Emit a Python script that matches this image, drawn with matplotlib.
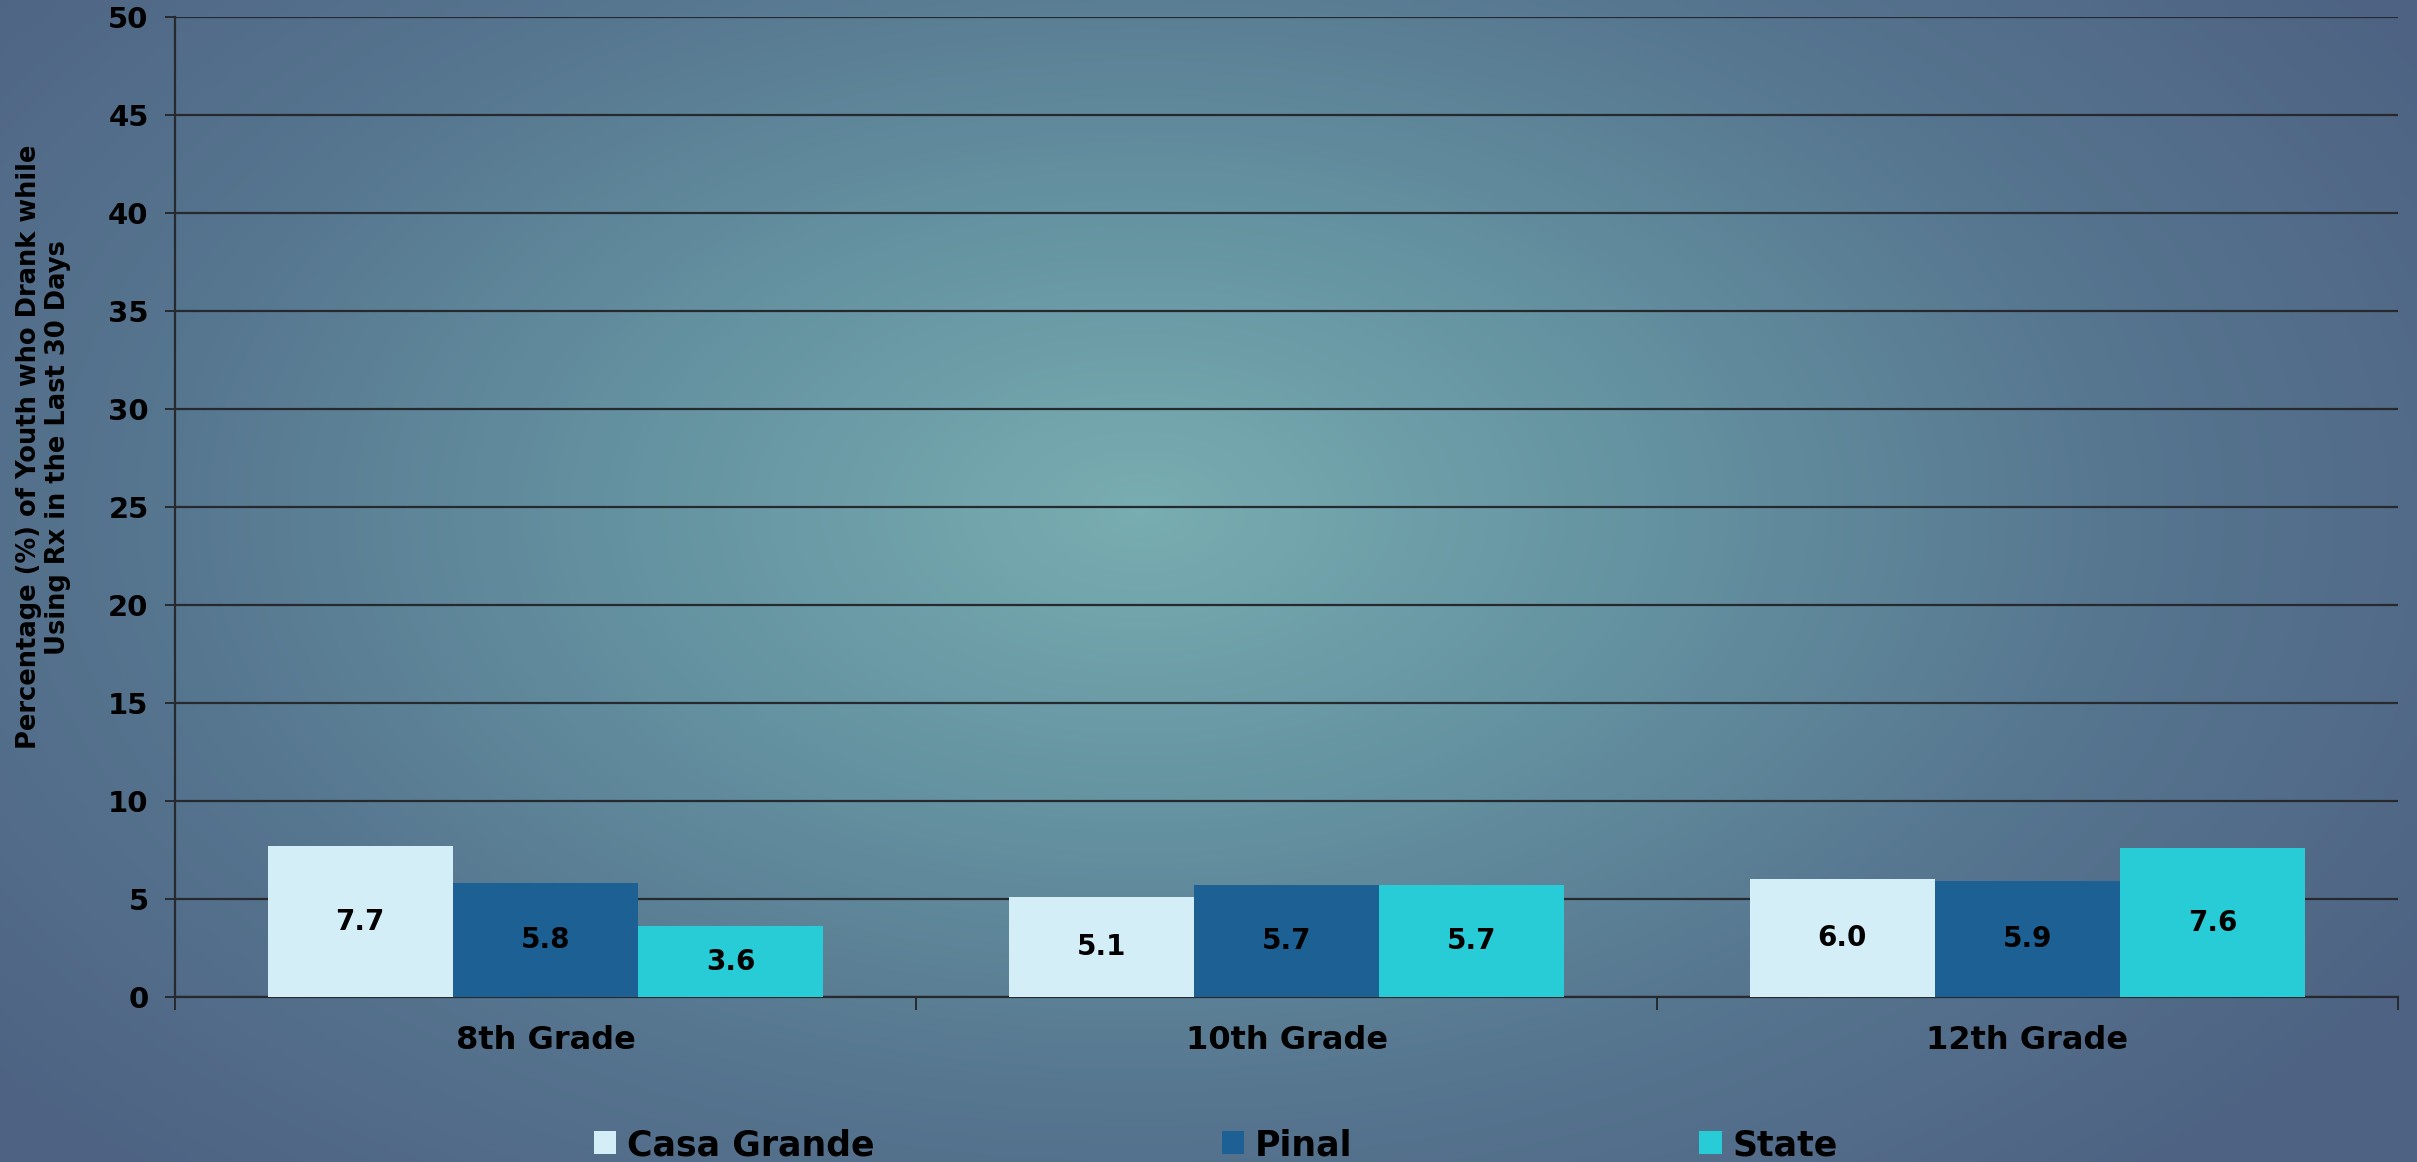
import numpy as np
import matplotlib
matplotlib.use("Agg")
import matplotlib.pyplot as plt
from matplotlib.colors import LinearSegmentedColormap

categories = ["8th Grade", "10th Grade", "12th Grade"]
series_names = ["Casa Grande", "Pinal", "State"]
casa_grande = [7.7, 5.1, 6.0]
pinal = [5.8, 5.7, 5.9]
state = [3.6, 5.7, 7.6]
y_ticks = [0, 5, 10, 15, 20, 25, 30, 35, 40, 45, 50]
y_label = "Percentage (%) of Youth who Drank while\nUsing Rx in the Last 30 Days"

colors = ["#d4eef8", "#1d6094", "#27ccd6"]
FONT = "DejaVu Sans"

W, H, DPI = 2417, 1162, 100
fig = plt.figure(figsize=(W / DPI, H / DPI), dpi=DPI)

# background radial gradient
bg = fig.add_axes([0, 0, 1, 1], zorder=-10)
yy, xx = np.mgrid[0:H:4, 0:W:4]
cx, cy = 1140, 510
r = np.sqrt(((xx - cx) / 1500.0) ** 2 + ((yy - cy) / 900.0) ** 2)
r = np.clip(r, 0, 1)
cmap = LinearSegmentedColormap.from_list("bg", ["#78adb1", "#6593a1", "#56758f", "#4e6383"])
bg.imshow(r, cmap=cmap, aspect="auto", extent=[0, 1, 0, 1], interpolation="bilinear")
bg.axis("off")

ax = fig.add_axes([175 / W, 1 - 997 / H, (2398 - 175) / W, (997 - 17) / H])
ax.patch.set_alpha(0)

x = np.arange(len(categories))
bw = 0.25
all_series = [casa_grande, pinal, state]
for i, (vals, name, col) in enumerate(zip(all_series, series_names, colors)):
    bars = ax.bar(x + (i - 1) * bw, vals, bw, color=col, label=name, zorder=3)
    for b, v in zip(bars, vals):
        ax.text(b.get_x() + b.get_width() / 2, v / 2, f"{v:.1f}", ha="center", va="center",
                fontsize=20, fontweight="bold", family=FONT, color="black", zorder=4)

ax.set_xlim(-0.5, 2.5)
ax.set_ylim(0, 50)
ax.set_yticks(y_ticks)
ax.yaxis.grid(True, color="#262a2e", linewidth=1.6, zorder=1)
ax.set_axisbelow(True)
for s in ["top", "right"]:
    ax.spines[s].set_visible(False)
for s in ["left", "bottom"]:
    ax.spines[s].set_color("#262a2e")
    ax.spines[s].set_linewidth(1.6)

ax.set_xticks([-0.5, 0.5, 1.5, 2.5])
ax.set_xticklabels([])
ax.set_xticks(x, minor=True)
ax.set_xticklabels(categories, minor=True, fontsize=23, fontweight="bold", family=FONT)
ax.tick_params(axis="x", which="major", length=9, width=1.4, color="#262a2e")
ax.tick_params(axis="x", which="minor", length=0, pad=20)
ax.tick_params(axis="y", length=7, width=1.4, color="#262a2e", pad=12)
for lab in ax.get_yticklabels():
    lab.set_fontsize(21)
    lab.set_fontweight("bold")
    lab.set_family(FONT)

ax.set_ylabel(y_label, fontsize=18.5, fontweight="bold", family=FONT, linespacing=1.15)
ax.yaxis.set_label_coords(-0.047, 0.561)

leg = fig.legend(loc="center", bbox_to_anchor=(0.503, 1 - 1145 / H), ncol=3, frameon=False,
                 prop={"family": FONT, "weight": "bold", "size": 25},
                 handlelength=0.65, handleheight=0.65, handletextpad=0.3, columnspacing=10.0)

fig.savefig("out.png", dpi=DPI)
